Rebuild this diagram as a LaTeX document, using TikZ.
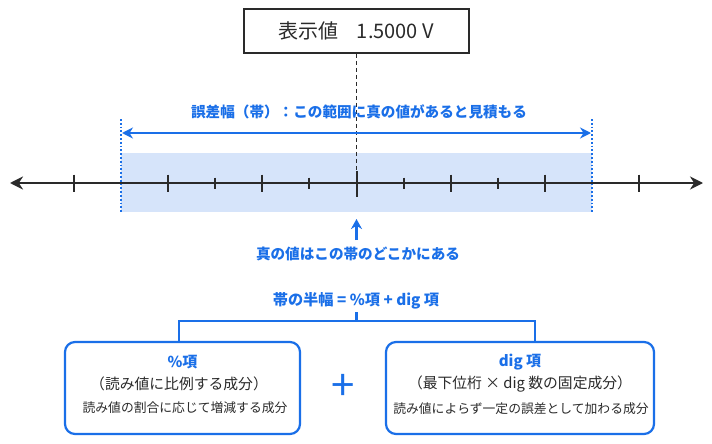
\documentclass[tikz,border=0pt]{standalone}
\usepackage{fontspec}
\setmainfont{Noto Sans CJK JP}
\usetikzlibrary{arrows.meta}
\definecolor{accent}{HTML}{1A6FE8}
\definecolor{bandfill}{HTML}{D6E4FA}
\definecolor{ink}{HTML}{2A2A2A}
\tikzset{
  bluelbl/.style={text=accent, inner sep=0pt, font=\fontsize{14.6}{16}\selectfont\bfseries},
  termbox/.style={draw=accent, line width=2.2pt, rounded corners=10pt, fill=white, minimum height=92pt, inner sep=0pt},
  termtitle/.style={text=accent, inner sep=0pt, font=\fontsize{15}{16}\selectfont\bfseries},
  termsub/.style={text=ink, inner sep=0pt, font=\fontsize{14.8}{16}\selectfont},
  termnote/.style={text=ink, inner sep=0pt, font=\fontsize{12.8}{14}\selectfont},
  tall/.style={ink, line width=2pt},
  axisline/.style={ink, line width=2.4pt, {Stealth[length=13pt,width=13pt]}-{Stealth[length=13pt,width=13pt]}},
  bandedge/.style={accent, line width=1.8pt, dash pattern=on 1.8pt off 2pt},
  bracketline/.style={accent, line width=2.2pt},
}
\begin{document}
\begin{tikzpicture}[x=1pt,y=-1pt]
\useasboundingbox (0,0) rectangle (712,444);
\fill[white] (0,0) rectangle (712,444);

% band
\fill[bandfill] (121,153) rectangle (592,212);

% display box
\node[draw=ink, line width=1.6pt, minimum width=225pt, minimum height=44pt, inner sep=0pt,
      font=\fontsize{20}{22}\selectfont, text=ink] (disp) at (356.5,31) {表示値\hspace{0.9em}1.5000 V};

% axis
\coordinate (axL) at (10,183);
\coordinate (axR) at (703,183);
\draw[axisline] (axL) -- (axR);
\foreach \k in {-6,-4,-2,2,4,6} {
  \draw[tall] ({356.5+47.15*\k},174.5) -- ({356.5+47.15*\k},192);
}
\foreach \k in {-3,-1,1,3} {
  \draw[tall] ({356.5+47.15*\k},177.5) -- ({356.5+47.15*\k},189);
}
\coordinate (ctop) at (356.5,171);
\coordinate (cbot) at (356.5,197);
\draw[ink, line width=2pt] (ctop) -- (cbot);

% dashed center line
\draw[ink, line width=1.5pt, dash pattern=on 4pt off 3pt] (disp.south) -- (cbot);

% band edges
\coordinate (eLt) at (121,119);
\coordinate (eLb) at (121,212);
\coordinate (eRt) at (592,119);
\coordinate (eRb) at (592,212);
\draw[bandedge] (eLt) -- (eLb);
\draw[bandedge] (eRt) -- (eRb);

% error width arrow and label
\coordinate (wL) at (122,133);
\coordinate (wR) at (591,133);
\draw[accent, line width=2pt, {Stealth[length=11pt,width=11pt]}-{Stealth[length=11pt,width=11pt]}] (wL) -- (wR);
\node[bluelbl] (errlbl) at (359,112) {誤差幅（帯）：この範囲に真の値があると見積もる};

% true value arrow and label
\node[bluelbl] (truelbl) at (358,254) {真の値はこの帯のどこかにある};
\coordinate (upB) at (356.5,240);
\coordinate (upT) at (356.5,219);
\draw[accent, line width=2.2pt, -{Stealth[length=10pt,width=11pt]}] (upB) -- (upT);

% half width formula
\node[bluelbl, font=\fontsize{15.2}{16}\selectfont\bfseries] (half) at (356,301) {帯の半幅 = \%項 + dig 項};
\coordinate (stubT) at (356.5,312);
\coordinate (stubB) at (356.5,321);
\coordinate (brL) at (179,321);
\coordinate (brR) at (535,321);
\coordinate (bl) at (179,342);
\coordinate (br) at (535,342);
\draw[bracketline] (stubT) -- (stubB);
\draw[bracketline] (bl) -- (brL) -- (brR) -- (br);

% term boxes
\node[termbox, minimum width=235pt] (lbox) at (182.5,388) {};
\node[termbox, minimum width=268pt] (rbox) at (520,388) {};

\node[termtitle] (lt) at (182.5,362) {\%項};
\node[termsub] (ls) at (179,384) {（読み値に比例する成分）};
\node[termnote] (ln) at (185,408) {読み値の割合に応じて増減する成分};

\node[termtitle] (rt) at (520,362) {dig 項};
\node[termsub] (rs) at (520,384) {（最下位桁 × dig 数の固定成分）};
\node[termnote] (rn) at (521,409) {読み値によらず一定の誤差として加わる成分};

% plus
\node[text=accent, inner sep=0pt, font=\fontsize{42}{42}\selectfont] (plus) at (343,387) {+};
\end{tikzpicture}
\end{document}
